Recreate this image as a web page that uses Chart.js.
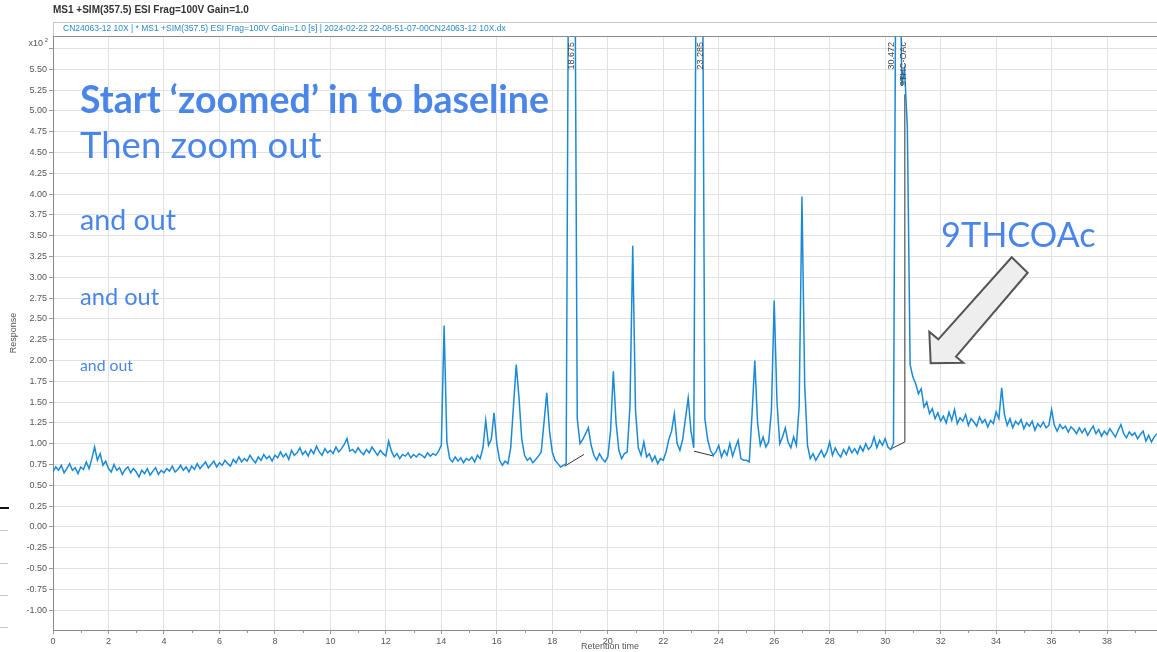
<!DOCTYPE html>
<html>
<head>
<meta charset="utf-8">
<script src="https://cdn.jsdelivr.net/npm/chart.js@4"></script>
<style>
  body { margin: 0; background: #fff; }
  #page { position: relative; width: 1157px; height: 652px; overflow: hidden; }
  #wrap { position: absolute; left: 0; top: 0; width: 1157px; height: 652px; }
  .note { position: absolute; left: 80px; color: #4a86e8; font-family: Lato, sans-serif; line-height: 1; white-space: nowrap; }
  .hdr { position: absolute; font-family: "Liberation Sans", Arial, sans-serif; line-height: 1; white-space: nowrap; }
  .mark { position: absolute; left: 0; height: 1px; background: #c8c8c8; }
</style>
</head>
<body>
<div id="page">
  <div id="wrap"><canvas id="chart"></canvas></div>

  <div class="hdr" style="left:53px; top:5px; font-size:10px; font-weight:bold; color:#333;">MS1 +SIM(357.5) ESI Frag=100V Gain=1.0</div>
  <div class="hdr" style="left:63px; top:24px; font-size:8.5px; color:#2a8ac8;">CN24063-12 10X | * MS1 +SIM(357.5) ESI Frag=100V Gain=1.0 [s] | 2024-02-22 22-08-51-07-00CN24063-12 10X.dx</div>

  <div class="note" style="top:80px; font-size:37.5px; font-weight:bold;">Start ‘zoomed’ in to baseline</div>
  <div class="note" style="top:126px; font-size:36.5px;">Then zoom out</div>
  <div class="note" style="top:204.5px; font-size:28.6px;">and out</div>
  <div class="note" style="top:285px; font-size:23.6px;">and out</div>
  <div class="note" style="top:357px; font-size:15.8px;">and out</div>
  <div class="note" style="left:941px; top:217px; font-size:34.3px;">9THCOAc</div>

  <div class="mark" style="top:507px; width:9px; height:2px; background:#111;"></div>
  <div class="mark" style="top:530px; width:8px;"></div>
  <div class="mark" style="top:563px; width:8px;"></div>
  <div class="mark" style="top:595px; width:8px;"></div>
  <div class="mark" style="top:627px; width:8px;"></div>
</div>

<script>
// retention time grid: segments start every 10 min, one reading every 0.1 min
const segStart = [0, 10, 20, 30];
const step = 0.1;

// response (x10^2)
const resp00 = [
  0.66,0.72,0.68,0.74,0.65,0.70,0.76,0.68,0.71,0.64,
  0.72,0.69,0.78,0.70,0.82,0.96,0.80,0.88,0.74,0.79,
  0.70,0.66,0.75,0.68,0.71,0.63,0.69,0.72,0.65,0.70,
  0.66,0.60,0.68,0.64,0.70,0.62,0.67,0.71,0.63,0.68,
  0.65,0.70,0.67,0.73,0.66,0.69,0.74,0.68,0.72,0.66,
  0.73,0.69,0.76,0.70,0.74,0.78,0.71,0.75,0.79,0.72,
  0.77,0.74,0.80,0.76,0.73,0.81,0.77,0.84,0.78,0.82,
  0.79,0.86,0.81,0.77,0.84,0.80,0.87,0.82,0.85,0.79,
  0.86,0.83,0.90,0.84,0.88,0.81,0.92,0.86,0.89,0.95,
  0.87,0.91,0.85,0.93,0.88,0.97,0.90,0.86,0.94,0.89
];
const resp10 = [
  0.92,0.88,0.96,0.90,0.94,0.99,1.06,0.91,0.93,0.89,
  0.95,0.90,0.87,0.93,0.89,0.96,0.91,0.86,0.92,0.88,
  0.85,1.03,0.91,0.84,0.88,0.82,0.87,0.85,0.89,0.83,
  0.87,0.84,0.88,0.86,0.83,0.89,0.85,0.88,0.86,0.91,
  0.98,2.42,1.02,0.82,0.78,0.84,0.79,0.83,0.77,0.82,
  0.80,0.84,0.78,0.86,0.82,0.95,1.28,0.98,1.05,1.37,
  1.00,0.80,0.74,0.79,0.76,0.95,1.45,1.95,1.55,1.05,
  0.86,0.80,0.83,0.77,0.81,0.85,0.90,1.25,1.61,1.15,
  0.90,0.80,0.76,0.72,0.74,0.76,8.00,8.00,8.00,1.30,
  1.00,1.05,1.12,1.19,0.98,0.86,0.80,0.88,0.82,0.78
];
const resp20 = [
  0.84,1.15,1.87,1.25,0.92,0.82,0.88,0.90,1.45,3.38,
  1.40,0.95,0.86,1.02,0.84,0.88,0.79,0.85,0.76,0.82,
  0.80,0.90,1.05,1.15,1.36,1.00,0.92,1.05,1.30,1.55,
  1.15,0.95,8.00,8.00,8.00,1.30,1.05,0.92,0.86,0.90,
  0.98,0.84,0.92,0.86,1.00,0.85,0.95,1.04,0.82,0.80,
  0.80,0.78,1.35,2.00,1.25,0.98,1.08,0.96,1.02,1.40,
  2.72,1.50,1.00,1.08,1.19,1.02,0.95,1.08,0.98,1.45,
  3.97,1.70,0.98,0.82,0.88,0.80,0.86,0.92,0.84,0.90,
  1.02,0.86,0.95,0.88,0.84,0.93,0.87,0.96,0.89,0.94,
  0.88,0.97,0.91,1.00,0.93,0.97,1.08,0.95,1.04,0.98
];
const resp30 = [
  1.06,0.96,0.93,1.00,8.00,8.00,5.30,5.50,4.80,1.95,
  1.80,1.72,1.60,1.66,1.44,1.50,1.36,1.42,1.30,1.37,
  1.27,1.33,1.25,1.38,1.28,1.41,1.24,1.31,1.27,1.35,
  1.22,1.30,1.26,1.21,1.32,1.25,1.29,1.20,1.28,1.24,
  1.38,1.30,1.67,1.35,1.22,1.30,1.19,1.27,1.23,1.29,
  1.18,1.25,1.21,1.27,1.16,1.24,1.20,1.26,1.19,1.22,
  1.41,1.22,1.15,1.23,1.18,1.21,1.14,1.20,1.17,1.12,
  1.19,1.13,1.18,1.10,1.16,1.21,1.12,1.17,1.09,1.15,
  1.11,1.18,1.13,1.08,1.16,1.23,1.12,1.07,1.14,1.10,
  1.13,1.06,1.11,1.15,1.03,1.10,1.02,1.08,1.12,1.05
];

// integration baselines (time, response)
const intStart = [[18.45, 0.73], [23.11, 0.91], [30.17, 0.93]];
const intEnd   = [[19.14, 0.87], [23.83, 0.85], [30.71, 1.02]];
const dropLine = [[30.71, 1.02], [30.71, 5.2]];

// peak labels
const peakLabels = ['18.675', '23.285', '30.472', '9THC-OAc'];
const peakLabelTimes = [18.70, 23.33, 30.24, 30.66];

const xTicks = [0,2,4,6,8,10,12,14,16,18,20,22,24,26,28,30,32,34,36,38];
const yTicks = [-1,-0.75,-0.5,-0.25,0,0.25,0.5,0.75,1,1.25,1.5,1.75,2,2.25,2.5,2.75,3,3.25,3.5,3.75,4,4.25,4.5,4.75,5,5.25,5.5,5.75];

const trace = [];
[resp00, resp10, resp20, resp30].forEach((seg, s) => {
  seg.forEach((v, i) => trace.push({ x: +(segStart[s] + i * step).toFixed(2), y: v }));
});

const baseSets = intStart.map((p, i) => ({
  data: [{ x: p[0], y: p[1] }, { x: intEnd[i][0], y: intEnd[i][1] }],
  borderColor: '#333', borderWidth: 1, pointRadius: 0
}));
baseSets.push({
  data: dropLine.map(p => ({ x: p[0], y: p[1] })),
  borderColor: '#333', borderWidth: 1, pointRadius: 0
});

const FONT = '"Liberation Sans", Arial, sans-serif';

const decor = {
  id: 'decor',
  afterDraw(chart) {
    const { ctx, chartArea: a, scales: { x, y } } = chart;
    ctx.save();
    // header box + top border
    ctx.strokeStyle = '#c8c8c8';
    ctx.lineWidth = 1;
    ctx.strokeRect(a.left + 0.5, 22.5, a.right - a.left, a.top - 22);
    ctx.strokeStyle = '#8a8a8a';
    ctx.beginPath();
    ctx.moveTo(a.left, a.top + 0.5);
    ctx.lineTo(a.right, a.top + 0.5);
    ctx.stroke();

    // minor x ticks
    ctx.strokeStyle = '#999';
    ctx.beginPath();
    for (let t = 1; t < 40; t += 2) {
      const px = Math.round(x.getPixelForValue(t)) + 0.5;
      ctx.moveTo(px, a.bottom);
      ctx.lineTo(px, a.bottom + 3);
    }
    ctx.stroke();

    // axis titles
    ctx.fillStyle = '#555';
    ctx.font = '9px ' + FONT;
    ctx.textAlign = 'center';
    ctx.textBaseline = 'middle';
    ctx.fillText('Retention time', 610, 647);
    ctx.save();
    ctx.translate(14, 333);
    ctx.rotate(-Math.PI / 2);
    ctx.fillText('Response', 0, 0);
    ctx.restore();

    // x10^2 multiplier
    ctx.textAlign = 'right';
    ctx.fillText('x10', 43, 44);
    ctx.font = '6px ' + FONT;
    ctx.fillText('2', 48, 40);

    // peak labels
    ctx.font = '9px ' + FONT;
    ctx.fillStyle = '#444';
    peakLabels.forEach((txt, i) => {
      ctx.save();
      ctx.translate(x.getPixelForValue(peakLabelTimes[i]), a.top + 6);
      ctx.rotate(-Math.PI / 2);
      ctx.textAlign = 'right';
      ctx.textBaseline = 'middle';
      ctx.fillText(txt, 0, 0);
      ctx.restore();
    });

    // call-out arrow
    ctx.beginPath();
    ctx.moveTo(1011.7, 257.3);
    ctx.lineTo(1027.7, 272.7);
    ctx.lineTo(956, 356.7);
    ctx.lineTo(963.3, 362.7);
    ctx.lineTo(930.7, 363.3);
    ctx.lineTo(929.3, 331.7);
    ctx.lineTo(938.3, 339.3);
    ctx.closePath();
    ctx.fillStyle = '#eeeeee';
    ctx.fill();
    ctx.strokeStyle = '#555';
    ctx.lineWidth = 2;
    ctx.stroke();
    ctx.restore();
  }
};

new Chart(document.getElementById('chart'), {
  type: 'line',
  data: {
    datasets: [{
      data: trace,
      borderColor: '#1b8ad6',
      borderWidth: 1.5,
      pointRadius: 0,
      tension: 0
    }, ...baseSets]
  },
  options: {
    responsive: true,
    maintainAspectRatio: false,
    animation: false,
    devicePixelRatio: 1,
    layout: { padding: { top: 36, left: 0, right: 0, bottom: 0 } },
    plugins: { legend: { display: false }, tooltip: { enabled: false } },
    scales: {
      x: {
        type: 'linear',
        min: 0,
        max: 39.8,
        afterBuildTicks: s => { s.ticks = xTicks.map(v => ({ value: v })); },
        afterFit: s => { s.height = 22; },
        ticks: { font: { size: 9, family: FONT }, color: '#555', maxRotation: 0, autoSkip: false, padding: 2, callback: v => String(v) },
        grid: { color: '#e2e2e2', tickLength: 4, tickColor: '#999' },
        border: { color: '#8a8a8a' }
      },
      y: {
        min: -1.24,
        max: 5.9,
        afterBuildTicks: s => { s.ticks = yTicks.map(v => ({ value: v })); },
        afterFit: s => { s.width = 53; },
        ticks: { font: { size: 9, family: FONT }, color: '#555', autoSkip: false, padding: 2, callback: v => v === 5.75 ? '' : v.toFixed(2) },
        grid: { color: '#e2e2e2', tickLength: 4, tickColor: '#999' },
        border: { color: '#8a8a8a' }
      }
    }
  },
  plugins: [decor]
});
</script>
</body>
</html>
